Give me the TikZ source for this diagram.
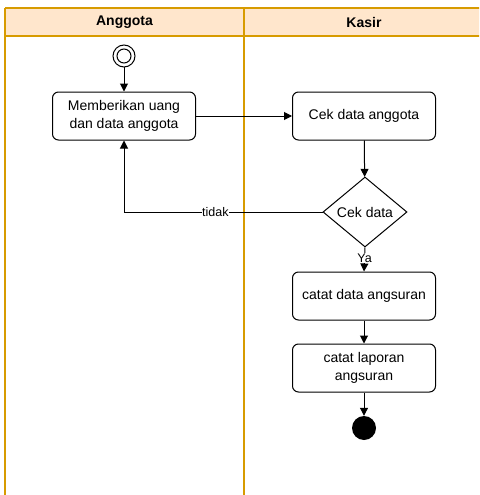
\documentclass[tikz,border=0pt]{standalone}
\usepackage{fontspec}
\setmainfont{Liberation Sans}
\usetikzlibrary{shapes.geometric,arrows.meta}
\definecolor{headfill}{HTML}{FFE6CC}
\definecolor{laneline}{HTML}{D79B00}
\begin{document}
\begin{tikzpicture}[x=1pt,y=-1pt,
  act/.style={draw, rounded corners=6pt, line width=1pt, minimum width=143pt, minimum height=48pt, align=center, inner sep=2pt, font=\fontsize{14}{18}\selectfont},
  decide/.style={draw, diamond, line width=1pt, minimum width=84pt, minimum height=70pt, inner sep=0pt, font=\fontsize{14}{18}\selectfont},
  flow/.style={draw, line width=1pt, -{Triangle[length=8pt,width=8pt]}},
  lane/.style={draw=laneline, line width=1.3pt},
  edgelbl/.style={fill=white, inner sep=0.5pt, font=\fontsize{12.5}{14}\selectfont},
  headtxt/.style={font=\bfseries\fontsize{14}{16}\selectfont}]
\useasboundingbox (0,0) rectangle (479,495);
\clip (0,0) rectangle (479,495);
% swimlane pool
\fill[headfill] (5,8) rectangle (560,36);
\draw[lane] (5,8) -- (560,8);
\draw[lane] (5,8) -- (5,560);
\draw[lane] (5,36) -- (560,36);
\draw[lane] (244,8) -- (244,560);
\node[headtxt] (h1) at (124.5,22) {Anggota};
\node[headtxt] (h2) at (364,22) {Kasir};
% nodes
\node[circle, draw, line width=1pt, minimum size=22pt, inner sep=0pt] (start) at (124,56) {};
\node[circle, draw, line width=1pt, minimum size=14pt, inner sep=0pt] (startin) at (124,56) {};
\node[act] (m) at (124,116) {Memberikan uang\\dan data anggota};
\node[act] (c) at (364,116) {Cek data anggota};
\node[decide] (d) at (365,212) {Cek data};
\node[act] (cd) at (364,296) {catat data angsuran};
\node[act] (cl) at (364,368) {catat laporan\\angsuran};
\node[circle, fill=black, minimum size=24pt, inner sep=0pt] (end) at (364,428) {};
% connectors
\draw[flow] (start) -- (m);
\draw[flow] (m) -- (c);
\draw[flow] (c) -- (d);
\draw[flow] (d.west) -| node[edgelbl, pos=0.27] {tidak} (m.south);
\draw[flow] (d.south) -- node[edgelbl, pos=0.44] {Ya} (cd.north);
\draw[flow] (cd) -- (cl);
\draw[flow] (cl) -- (end);
\end{tikzpicture}
\end{document}
